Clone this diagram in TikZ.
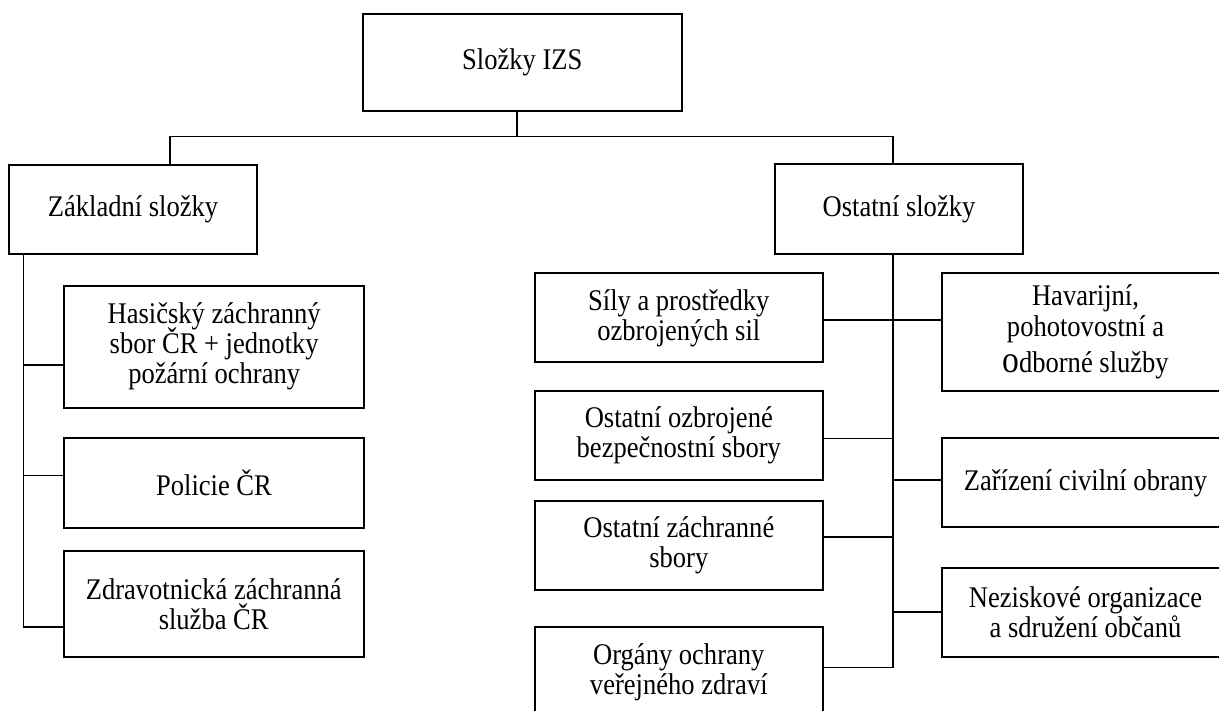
\documentclass[tikz,border=0pt]{standalone}
\usepackage{fontspec}
\setmainfont{Liberation Serif}[FakeStretch=0.885]
\usetikzlibrary{positioning}
\tikzset{slozka/.style={draw,line width=1pt,align=center,inner sep=0pt,font=\fontsize{15}{15}\selectfont},
  levy/.style={slozka,minimum width=150pt},
  pravy/.style={slozka,minimum width=143.8pt},
  spoj/.style={line width=0.8pt}}

\begin{document}
\setlength{\lineskiplimit}{-20pt}
\begin{tikzpicture}[x=0.5pt,y=-0.5pt]
  \useasboundingbox (0,0) rectangle (1219,711);
  \clip (0,0) rectangle (1219,711);
  \node[slozka,minimum width=159.7pt,minimum height=48.3pt] (izs) at (522.3,62.3) {Složky IZS};
  \node[slozka,minimum width=124pt,minimum height=44.7pt] (zakl) at (133,209.3) {Základní složky};
  \node[slozka,minimum width=124pt,minimum height=44.9pt] (ost) at (899,209.2) {Ostatní složky};
  \node[levy,minimum height=61pt] (hzs) at (214.2,346.7) {Hasičský záchranný\\sbor ČR + jednotky\\požární ochrany};
  \node[levy,minimum height=44.7pt] (pcr) at (214,483) {Policie ČR};
  \node[levy,minimum height=53pt] (zzs) at (213.7,604.3) {Zdravotnická záchranná\\služba ČR};
  \node[pravy,minimum height=44.5pt] (sily) at (678.8,317.8) {Síly a prostředky\\ozbrojených sil};
  \node[pravy,minimum height=44.7pt] (ozbr) at (678.8,435.3) {Ostatní ozbrojené\\bezpečnostní sbory};
  \node[pravy,minimum height=44.5pt] (zachr) at (678.8,545.8) {Ostatní záchranné\\sbory};
  \node[pravy,minimum height=45.3pt] (organy) at (678.8,672) {Orgány ochrany\\veřejného zdraví};
  \node[pravy,minimum height=58.7pt] (hav) at (1085.5,332) {Havarijní,\\[0.5pt]pohotovostní a\\[3pt]{\fontsize{19}{15}\selectfont o}dborné služby};
  \node[pravy,minimum height=44.5pt] (cobr) at (1085.5,482.8) {Zařízení civilní obrany};
  \node[pravy,minimum height=44.7pt] (nezisk) at (1085.5,612.7) {Neziskové organizace\\a sdružení občanů};
  \coordinate (uzel) at (517,136.7);
  \coordinate (lh) at (170,136.7);
  \coordinate (ph) at (893,136.7);
  \draw[spoj] (izs.south -| uzel) -- (uzel);
  \draw[spoj] (zakl.north -| lh) -- (lh) -- (ph) -- (ost.north -| ph);
  \coordinate (lk) at (23.3,626.7);
  \draw[spoj] (zakl.south -| lk) -- (lk) -- (lk -| zzs.west);
  \coordinate (l1) at (23.3,365);
  \coordinate (l2) at (23.3,475.3);
  \draw[spoj] (l1) -- (l1 -| hzs.west);
  \draw[spoj] (l2) -- (l2 -| pcr.west);
  \coordinate (pk) at (893,667.3);
  \draw[spoj] (ost.south -| pk) -- (pk) -- (pk -| organy.east);
  \coordinate (p1) at (893,320);
  \draw[spoj] (p1 -| sily.east) -- (p1 -| hav.west);
  \foreach \y/\n in {438.3/ozbr,536.7/zachr}
    \draw[spoj] (893,\y) -- (\n.east |- 893,\y);
  \foreach \y/\n in {480/cobr,611.7/nezisk}
    \draw[spoj] (893,\y) -- (\n.west |- 893,\y);
\end{tikzpicture}
\end{document}
